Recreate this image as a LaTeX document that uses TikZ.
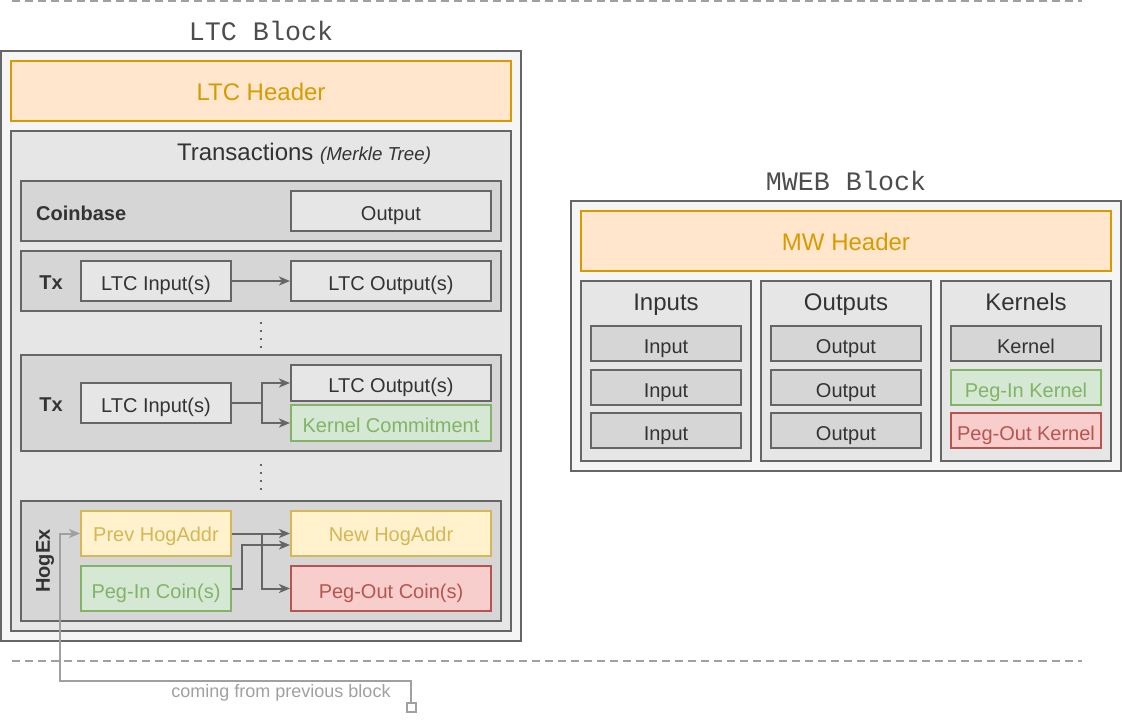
\documentclass[tikz,border=0pt]{standalone}
\usepackage{fontspec}
\setmainfont{Liberation Sans}
\newfontfamily\blockmono{Liberation Mono}
\usetikzlibrary{arrows.meta}

\definecolor{boxline}{HTML}{666666}
\definecolor{outerfill}{HTML}{F5F5F5}
\definecolor{groupfill}{HTML}{E6E6E6}
\definecolor{rowfill}{HTML}{D6D6D6}
\definecolor{txtdark}{HTML}{333333}
\definecolor{titlegray}{HTML}{4D4D4D}
\definecolor{hdrline}{HTML}{D79B00}
\definecolor{hdrfill}{HTML}{FFE6CC}
\definecolor{hogline}{HTML}{D6B656}
\definecolor{hogfill}{HTML}{FFF2CC}
\definecolor{greenline}{HTML}{82B366}
\definecolor{greenfill}{HTML}{D5E8D4}
\definecolor{redline}{HTML}{B85450}
\definecolor{redfill}{HTML}{F8CECC}
\definecolor{feedgray}{HTML}{A0A0A0}

\newcommand\bodysize{\fontsize{20}{24}\selectfont}
\newcommand\bigsize{\fontsize{24}{28}\selectfont}
\newcommand\smallsize{\fontsize{18}{22}\selectfont}
\newcommand\titlesize{\fontsize{26.7}{30}\selectfont}

\tikzset{
    frame/.style={
           rectangle,
           draw=boxline, line width=2pt,
           inner sep=0pt,
           text=txtdark,
           font=\bodysize,
           text height=19pt, text depth=0pt,
           },
    outerbox/.style={frame, fill=outerfill},
    groupbox/.style={frame, fill=groupfill},
    rowbox/.style={frame, fill=rowfill},
    headerbox/.style={frame, draw=hdrline, fill=hdrfill, text=hdrline, font=\bigsize, text height=18pt},
    hogbox/.style={frame, draw=hogline, fill=hogfill, text=hogline, text height=15.5pt},
    greenbox/.style={frame, draw=greenline, fill=greenfill, text=greenline},
    redbox/.style={frame, draw=redline, fill=redfill, text=redline},
    blocktitle/.style={font=\blockmono\titlesize, text=titlegray},
    grouptitle/.style={font=\bigsize, text=txtdark, text height=17.2pt, text depth=0pt},
    rowlabel/.style={font=\bodysize\bfseries, text=txtdark, inner sep=0pt},
    arrow/.style={-{Stealth[length=11pt,width=9pt,inset=3pt]}, draw=boxline, line width=2pt},
    feed/.style={-{Stealth[length=11pt,width=9pt,inset=3pt]}, draw=feedgray, line width=2pt},
    sep/.style={draw=feedgray, line width=2pt, dash pattern=on 8pt off 5pt},
    vdots/.style={draw=boxline, line width=2pt, dash pattern=on 2pt off 6pt},
}

\begin{document}
\begin{tikzpicture}[x=1pt,y=-1pt]
 \useasboundingbox (0,0) rectangle (1122,721);

 % separators between blocks
 \draw[sep] (12,1) -- (1082,1);
 \draw[sep] (12,661) -- (1082,661);

 % LTC block
 \node[blocktitle] (ltctitle) at (261,31) {LTC Block};
 \node[outerbox, minimum width=520pt, minimum height=590pt] (ltcblock) at (261,346) {};
 \node[headerbox, minimum width=500pt, minimum height=60pt] (ltchdr) at (261,91) {LTC Header};
 \node[groupbox, minimum width=500pt, minimum height=500pt] (txs) at (261,381) {};
 \node[grouptitle] (txstitle) at (304,152)
  {Transactions {\itshape\fontsize{18.7}{22}\selectfont (Merkle Tree)}};

 % coinbase
 \node[rowbox, minimum width=480pt, minimum height=60pt] (coinbase) at (261,211) {};
 \node[rowlabel, anchor=west] (cblabel) at (36,213) {Coinbase};
 \node[groupbox, minimum width=200pt, minimum height=40pt] (cbout) at (391,211) {Output};

 % first tx
 \node[rowbox, minimum width=480pt, minimum height=60pt] (txa) at (261,281) {};
 \node[rowlabel] (txalabel) at (51,283) {Tx};
 \node[groupbox, minimum width=150pt, minimum height=40pt] (txain) at (156,281) {LTC Input(s)};
 \node[groupbox, minimum width=200pt, minimum height=40pt] (txaout) at (391,281) {LTC Output(s)};
 \draw[arrow] (txain) -- (txaout);

 \draw[vdots] (261,322) -- (261,350);

 % tx with kernel commitment
 \node[rowbox, minimum width=480pt, minimum height=96pt] (txb) at (261,403) {};
 \node[rowlabel] (txblabel) at (51,405) {Tx};
 \node[groupbox, minimum width=150pt, minimum height=40pt] (txbin) at (156,403) {LTC Input(s)};
 \node[groupbox, minimum width=200pt, minimum height=36pt] (txbout) at (391,383) {LTC Output(s)};
 \node[greenbox, text height=18.5pt, minimum width=200pt, minimum height=36pt] (txbkernel) at (391,423) {Kernel Commitment};
 \draw[arrow] (txbin.east) -- ++(30,0) |- (txbout.west);
 \draw[arrow] (txbin.east) -- ++(30,0) |- (txbkernel.west);

 \draw[vdots] (261,464) -- (261,492);

 % HogEx
 \node[rowbox, minimum width=480pt, minimum height=120pt] (hogex) at (261,561) {};
 \node[rowlabel, rotate=90] (hoglabel) at (45,561) {HogEx};
 \node[hogbox, minimum width=150pt, minimum height=45pt] (prevhog) at (156,533.5) {Prev HogAddr};
 \node[hogbox, minimum width=200pt, minimum height=45pt] (newhog) at (391,533.5) {New HogAddr};
 \node[greenbox, minimum width=150pt, minimum height=45pt] (pegincoin) at (156,588.5) {Peg-In Coin(s)};
 \node[redbox, minimum width=200pt, minimum height=45pt] (pegoutcoin) at (391,588.5) {Peg-Out Coin(s)};
 \draw[arrow] (prevhog) -- (newhog);
 \draw[arrow] (prevhog.east) -- ++(30,0) |- (pegoutcoin.west);
 \draw[arrow] (pegincoin.east) -- ++(10,0) |- ([yshift=-11.5pt]newhog.west);

 % link from the previous block
 \node[draw=feedgray, fill=white, line width=2pt, minimum size=9pt, inner sep=0pt] (prevblk) at (411,707) {};
 \draw[feed] (prevblk.north) -- ++(0,-21) -| ([xshift=-20pt]prevhog.west) -- (prevhog.west);
 \node[text=feedgray, font=\smallsize] (feedlabel) at (281,693) {coming from previous block};

 % MWEB block
 \node[blocktitle] (mwtitle) at (846,181) {MWEB Block};
 \node[outerbox, minimum width=550pt, minimum height=270pt] (mwblock) at (846,336) {};
 \node[headerbox, minimum width=530pt, minimum height=60pt] (mwhdr) at (846,241) {MW Header};

 \node[groupbox, minimum width=170pt, minimum height=180pt] (inputs) at (666,371) {};
 \node[groupbox, minimum width=170pt, minimum height=180pt] (outputs) at (846,371) {};
 \node[groupbox, minimum width=170pt, minimum height=180pt] (kernels) at (1026,371) {};
 \node[grouptitle] (inputstitle) at (666,302) {Inputs};
 \node[grouptitle] (outputstitle) at (846,302) {Outputs};
 \node[grouptitle] (kernelstitle) at (1026,302) {Kernels};

 \foreach \y/\n in {343.5/1, 387.5/2, 430.5/3} {
  \node[rowbox, minimum width=150pt, minimum height=35pt] (mwin\n) at (666,\y) {Input};
  \node[rowbox, minimum width=150pt, minimum height=35pt] (mwout\n) at (846,\y) {Output};
 }
 \node[rowbox, minimum width=150pt, minimum height=35pt] (mwkernel) at (1026,343.5) {Kernel};
 \node[greenbox, minimum width=150pt, minimum height=35pt] (peginkernel) at (1026,387.5) {Peg-In Kernel};
 \node[redbox, minimum width=150pt, minimum height=35pt] (pegoutkernel) at (1026,430.5) {Peg-Out Kernel};

\end{tikzpicture}
\end{document}
